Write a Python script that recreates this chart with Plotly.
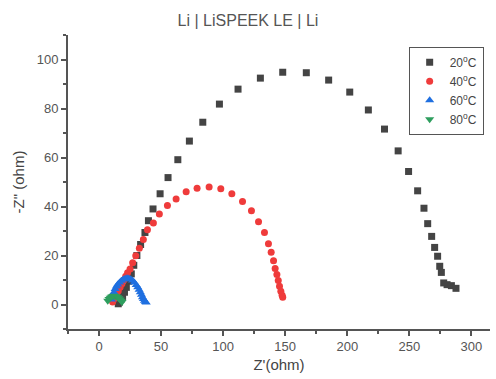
import plotly.graph_objects as go

series_names = ["20<sup>o</sup>C", "40<sup>o</sup>C", "60<sup>o</sup>C", "80<sup>o</sup>C"]

x20 = [15.5, 16.5, 17.5, 19, 20.5, 22, 24, 26, 28, 30.5, 33.5, 37, 39.8, 43.5, 49.2, 55.6, 63.5, 72.8,
       83.6, 97, 112, 130, 148, 167, 185, 202, 217, 230, 241, 249.4, 256.7, 261.8, 264.8, 268,
       270.4, 272.8, 274.5, 275.8, 277.7, 280.4, 283.9, 287.6]
y20 = [0.3, 1, 2, 3.3, 5, 7, 9.5, 12.5, 16, 20, 24.5, 29.4, 34.2, 39, 45.2, 51.8, 59.1, 66.7,
       74.4, 81.8, 87.9, 92.4, 94.8, 94.6, 91.6, 86.7, 79.4, 71.6, 62.7, 54.3, 46.4, 39.3, 33,
       27.8, 23.3, 19.7, 15.6, 13.1, 8.8, 8.1, 7.7, 6.6]

x40 = [11, 12.5, 14, 15.5, 17, 18.5, 20, 21.5, 23, 25, 27.1, 29.6, 32.5, 35.7, 39, 43.8, 48.6, 55.1,
       62.1, 70.2, 79, 88.7, 98.1, 107, 115.6, 122.8, 128.5, 133.3, 136.5, 138.7, 140.6, 141.9,
       143.3, 144.4, 145.4, 146.5, 147.5, 148]
y40 = [1, 2.5, 4, 5.5, 7, 8.5, 10, 11.5, 13, 14.5, 17, 19.9, 23, 26.5, 30.5, 33.3, 36.9, 40.4,
       43.1, 46, 47.5, 48, 47.2, 45.2, 42, 38.3, 33.8, 29.4, 24.8, 21.3, 17.9, 14.7,
       12.2, 9.8, 7.5, 5.4, 3.8, 3]

x60 = [10, 11, 12, 13, 14, 15, 16.5, 18, 19.5, 21, 22.5, 24, 25.5, 27, 28.5, 30, 31.2, 32.3,
       33.3, 34.2, 35, 35.8, 36.6, 37.4, 38]
y60 = [2, 3.5, 5, 6.3, 7.3, 8.2, 9, 9.7, 10.2, 10.5, 10.7, 10.6, 10.3, 9.8, 9, 8, 7, 6,
       5, 4, 3, 2.2, 1.5, 1, 0.8]

x80 = [7, 8, 9, 10, 11, 12, 13, 14, 15, 16, 17, 17.8, 18.5]
y80 = [1.5, 2.2, 2.8, 3.2, 3.5, 3.6, 3.5, 3.3, 3, 2.6, 2, 1.5, 1]

x_ticks = [0, 50, 100, 150, 200, 250, 300]
y_ticks = [0, 20, 40, 60, 80, 100]

FONT = "Arial, Liberation Sans"

fig = go.Figure()
fig.add_trace(go.Scatter(x=x20, y=y20, mode="markers", name=series_names[0],
                         marker=dict(symbol="square", size=7, color="#444444")))
fig.add_trace(go.Scatter(x=x40, y=y40, mode="markers", name=series_names[1],
                         marker=dict(symbol="circle", size=7, color="#ef3b3b")))
fig.add_trace(go.Scatter(x=x60, y=y60, mode="markers", name=series_names[2],
                         marker=dict(symbol="triangle-up", size=8, color="#1f6fe0")))
fig.add_trace(go.Scatter(x=x80, y=y80, mode="markers", name=series_names[3],
                         marker=dict(symbol="triangle-down", size=8, color="#2e9e5e")))

axis_common = dict(showgrid=False, zeroline=False, showline=True, linecolor="#555555",
                   ticks="outside", ticklen=5, tickcolor="#555555", tickwidth=1.5,
                   tickfont=dict(family=FONT, size=13, color="#555555"),
                   title_font=dict(family=FONT, size=15, color="#444444"))

fig.update_layout(
    width=496, height=379,
    margin=dict(l=68, r=6, t=35, b=50),
    paper_bgcolor="white", plot_bgcolor="white",
    title=dict(text="Li | LiSPEEK LE | Li", x=0.5, xanchor="center", y=0.945, yanchor="middle",
               font=dict(family=FONT, size=16, color="#555555")),
    xaxis=dict(range=[-25, 315], tickvals=x_ticks, title=dict(text="Z'(ohm)", standoff=6),
               linewidth=1.5, minor=dict(ticks="outside", ticklen=3, dtick=25, tickcolor="#555555"),
               **axis_common),
    yaxis=dict(range=[-10, 110], tickvals=y_ticks, title=dict(text="-Z\" (ohm)", standoff=8),
               linewidth=2, minor=dict(ticks="outside", ticklen=3, dtick=10, tickcolor="#555555"),
               **axis_common),
    legend=dict(x=0.985, y=0.96, xanchor="right", yanchor="top", bordercolor="#555555",
                borderwidth=1, bgcolor="white", itemwidth=30,
                font=dict(family=FONT, size=12, color="#444444"),
                tracegroupgap=0),
    showlegend=True,
)

fig.write_html("out.html")
